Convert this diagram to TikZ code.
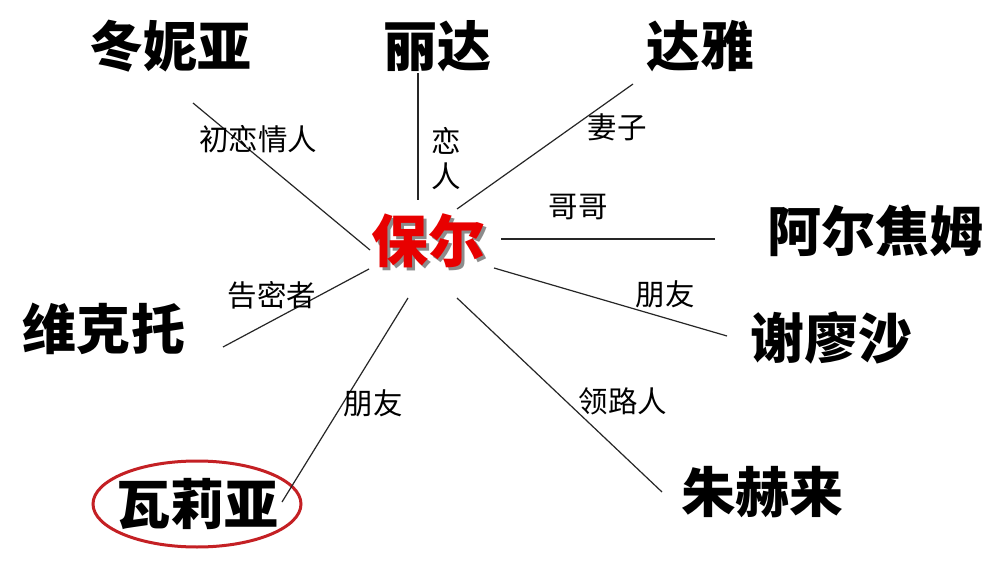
\documentclass[tikz,border=0pt]{standalone}
\usepackage{fontspec}
\newfontfamily\cjk{Noto Sans CJK SC}
\definecolor{ovalred}{RGB}{196,32,36}
\definecolor{namered}{RGB}{232,0,0}
\tikzset{
  person/.style={font=\cjk\bfseries\fontsize{54}{58}\selectfont, inner sep=0pt, text=black},
  hero/.style={font=\cjk\bfseries\fontsize{57}{60}\selectfont, inner sep=0pt},
  rel/.style={font=\cjk\fontsize{29.5}{35}\selectfont, inner sep=0pt, text=black, align=center},
  link/.style={draw=black!85, line width=1.2pt},
}
\begin{document}
\begin{tikzpicture}[x=1pt,y=-1pt]
\useasboundingbox[fill=white] (0,0) rectangle (1001,564);
% central name with shadow
\node[hero, text=black!45] at (431,244) {保尔};
\node[hero, text=namered] (bao) at (428,241) {保尔};
% people
\node[person] (dny) at (170,46) {冬妮亚};
\node[person] (lida) at (437,46) {丽达};
\node[person] (daya) at (700,46) {达雅};
\node[person] (aej) at (875,231) {阿尔焦姆};
\node[person] (wkt) at (104,329) {维克托};
\node[person] (xls) at (831,338) {谢廖沙};
\node[person] (zhl) at (762,492) {朱赫来};
\node[person] (wly) at (197,504) {瓦莉亚};
\draw[ovalred, line width=3pt] (wly) ellipse [x radius=104, y radius=43];
% connector ends
\coordinate (c1a) at (193,103); \coordinate (c1b) at (370,250);
\coordinate (c2a) at (418,73);  \coordinate (c2b) at (418,200);
\coordinate (c3a) at (633,84);  \coordinate (c3b) at (457,209);
\coordinate (c4a) at (715,239); \coordinate (c4b) at (501,239);
\coordinate (c5a) at (727,336); \coordinate (c5b) at (494,268);
\coordinate (c6a) at (662,492); \coordinate (c6b) at (457,298);
\coordinate (c7a) at (282,502); \coordinate (c7b) at (408,298);
\coordinate (c8a) at (223,347); \coordinate (c8b) at (369,269);
\draw[link] (c1a) -- (c1b);
\draw[link] (c2a) -- (c2b);
\draw[link] (c3a) -- (c3b);
\draw[link] (c4a) -- (c4b);
\draw[link] (c5a) -- (c5b);
\draw[link] (c6a) -- (c6b);
\draw[link] (c7a) -- (c7b);
\draw[link] (c8a) -- (c8b);
% relation labels
\node[rel] (l1) at (258,139) {初恋情人};
\node[rel] (l2) at (446,159) {恋\\人};
\node[rel] (l3) at (617,127) {妻子};
\node[rel] (l4) at (578,207) {哥哥};
\node[rel] (l5) at (665,294) {朋友};
\node[rel] (l6) at (623,401) {领路人};
\node[rel] (l7) at (373,403) {朋友};
\node[rel] (l8) at (272,295) {告密者};
\end{tikzpicture}
\end{document}
